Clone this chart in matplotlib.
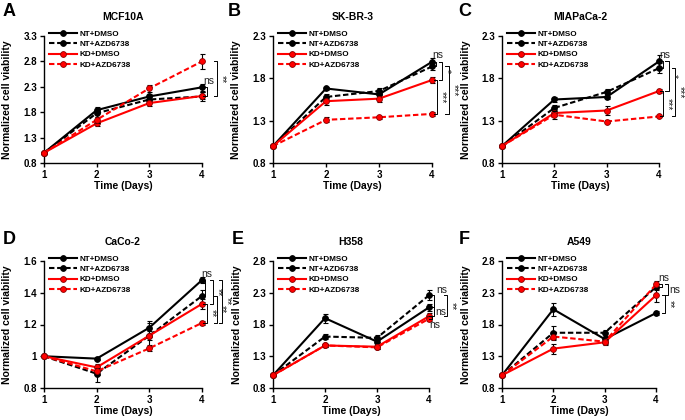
import matplotlib
matplotlib.use('Agg')
import matplotlib.pyplot as plt
from matplotlib.lines import Line2D

plt.rcParams['font.family'] = ['Liberation Sans', 'DejaVu Sans']

# ---------------- data ----------------
days = [1, 2, 3, 4]
series_names = ['NT+DMSO', 'NT+AZD6738', 'KD+DMSO', 'KD+AZD6738']

# A: MCF10A
a_nt_dmso = [1.00, 1.84, 2.11, 2.29]
a_nt_azd = [1.00, 1.78, 2.05, 2.11]
a_kd_dmso = [1.00, 1.58, 1.98, 2.12]
a_kd_azd = [1.00, 1.65, 2.27, 2.80]
a_err = [[0, 0.06, 0.05, 0.07], [0, 0.08, 0.05, 0.08], [0, 0.05, 0.05, 0.07], [0, 0.06, 0.07, 0.15]]

# B: SK-BR-3
b_nt_dmso = [1.00, 1.68, 1.61, 1.995]
b_nt_azd = [1.00, 1.58, 1.65, 1.94]
b_kd_dmso = [1.00, 1.53, 1.56, 1.78]
b_kd_azd = [1.00, 1.31, 1.34, 1.38]
b_err = [[0, 0.02, 0.02, 0.04], [0, 0.03, 0.03, 0.04], [0, 0.05, 0.04, 0.04], [0, 0.03, 0.02, 0.02]]

# C: MIAPaCa-2
c_nt_dmso = [1.00, 1.55, 1.58, 2.00]
c_nt_azd = [1.00, 1.45, 1.64, 1.92]
c_kd_dmso = [1.00, 1.39, 1.42, 1.65]
c_kd_azd = [1.00, 1.37, 1.29, 1.35]
c_err = [[0, 0.03, 0.03, 0.07], [0, 0.03, 0.03, 0.06], [0, 0.04, 0.05, 0.02], [0, 0.05, 0.02, 0.01]]

# D: CaCo-2
d_nt_dmso = [1.00, 0.985, 1.18, 1.48]
d_nt_azd = [1.00, 0.89, 1.13, 1.38]
d_kd_dmso = [1.00, 0.93, 1.13, 1.33]
d_kd_azd = [1.00, 0.905, 1.05, 1.21]
d_err = [[0, 0.01, 0.04, 0.02], [0, 0.05, 0.03, 0.04], [0, 0.02, 0.08, 0.03], [0, 0.02, 0.02, 0.01]]

# E: H358
e_nt_dmso = [1.00, 1.90, 1.53, 2.07]
e_nt_azd = [1.00, 1.61, 1.59, 2.26]
e_kd_dmso = [1.00, 1.47, 1.45, 1.93]
e_kd_azd = [1.00, 1.47, 1.44, 1.89]
e_err = [[0, 0.07, 0.04, 0.05], [0, 0.04, 0.04, 0.08], [0, 0.03, 0.03, 0.05], [0, 0.02, 0.03, 0.04]]

# F: A549
f_nt_dmso = [1.00, 2.04, 1.57, 1.98]
f_nt_azd = [1.00, 1.67, 1.67, 2.39]
f_kd_dmso = [1.00, 1.42, 1.52, 2.26]
f_kd_azd = [1.00, 1.61, 1.53, 2.43]
f_err = [[0, 0.10, 0.04, 0.03], [0, 0.10, 0.05, 0.05], [0, 0.08, 0.05, 0.10], [0, 0.05, 0.04, 0.05]]

titles = ['MCF10A', 'SK-BR-3', 'MIAPaCa-2', 'CaCo-2', 'H358', 'A549']
letters = ['A', 'B', 'C', 'D', 'E', 'F']
yticks_a = [0.8, 1.3, 1.8, 2.3, 2.8, 3.3]
yticks_bc = [0.8, 1.3, 1.8, 2.3]
yticks_d = [0.8, 1.0, 1.2, 1.4, 1.6]
ylabels_d = ['0.8', '1', '1.2', '1.4', '1.6']
yticks_ef = [0.8, 1.3, 1.8, 2.3, 2.8]

# significance brackets at day 4: (series i, series j, x offset px, label, label mode)
brackets = [
    [(0, 2, 5, 'ns', 'above'), (3, 2, 15, '**', 'rot')],
    [(0, 1, 4, 'ns', 'above'), (0, 2, 10, '*', 'rot'), (2, 3, 5, '***', 'rot'), (1, 3, 17, '***', 'rot')],
    [(0, 1, 4, 'ns', 'above'), (0, 2, 10, '*', 'rot'), (2, 3, 4, '***', 'rot'), (1, 3, 16, '***', 'rot')],
    [(0, 1, 3, 'ns', 'above'), (0, 2, 11, '**', 'rot'), (2, 3, 5, '**', 'rot'), (1, 3, 15, '**', 'rot'), (0, 3, 20, '**', 'rot')],
    [(1, 0, 5, 'ns', 'aboveR'), (0, 2, 5, 'ns', 'right'), (2, 3, 3, 'ns', 'below'), (1, 2, 18, '**', 'rot')],
    [(3, 1, 6, 'ns', 'above'), (3, 2, 12, 'ns', 'right'), (2, 0, 9, '**', 'rot')],
]

panels = [
    ([a_nt_dmso, a_nt_azd, a_kd_dmso, a_kd_azd], a_err, yticks_a, None),
    ([b_nt_dmso, b_nt_azd, b_kd_dmso, b_kd_azd], b_err, yticks_bc, None),
    ([c_nt_dmso, c_nt_azd, c_kd_dmso, c_kd_azd], c_err, yticks_bc, None),
    ([d_nt_dmso, d_nt_azd, d_kd_dmso, d_kd_azd], d_err, yticks_d, ylabels_d),
    ([e_nt_dmso, e_nt_azd, e_kd_dmso, e_kd_azd], e_err, yticks_ef, None),
    ([f_nt_dmso, f_nt_azd, f_kd_dmso, f_kd_azd], f_err, yticks_ef, None),
]

# ---------------- layout (pixels) ----------------
W, H = 685, 420
fig = plt.figure(figsize=(W / 100, H / 100), dpi=100)
axes_px = [(44, 36, 158, 127), (273, 36, 159, 127), (502, 36, 157, 127),
           (44, 261, 158, 127), (273, 261, 156, 127), (502, 261, 154, 127)]
letter_px = [(3, 12), (228, 12), (458, 12), (3, 239), (232, 239), (459, 239)]

RED = '#FF0000'
styles = [
    dict(color='black', ls='-', mfc='black', mec='black'),
    dict(color='black', ls=(0, (2.6, 1.3)), mfc='black', mec='black'),
    dict(color=RED, ls='-', mfc=RED, mec='#8B0000'),
    dict(color=RED, ls=(0, (2.6, 1.3)), mfc=RED, mec='#8B0000'),
]

for k, (series, errs, yt, ylab) in enumerate(panels):
    x0, y0, w, h = axes_px[k]
    ax = fig.add_axes([x0 / W, 1 - (y0 + h) / H, w / W, h / H])
    for s, (vals, err, st) in enumerate(zip(series, errs, styles)):
        ax.errorbar(days, vals, yerr=err, fmt='none', ecolor='black', elinewidth=0.8,
                    capsize=1.8, capthick=0.8, clip_on=False, zorder=2 + s)
        ax.plot(days, vals, color=st['color'], ls=st['ls'], lw=1.5, marker='o', ms=4.2,
                mfc=st['mfc'], mec=st['mec'], mew=0.6, clip_on=False, zorder=3 + s,
                label=series_names[s])
    ax.set_xlim(1, 4)
    ax.set_ylim(yt[0], yt[-1])
    ax.set_xticks(days)
    ax.set_xticklabels([str(d) for d in days], fontweight='bold', fontsize=7)
    ax.set_yticks(yt)
    ax.set_yticklabels(ylab if ylab else ['%.1f' % v for v in yt], fontweight='bold', fontsize=7)
    for sp in ['top', 'right']:
        ax.spines[sp].set_visible(False)
    for sp in ['left', 'bottom']:
        ax.spines[sp].set_linewidth(1.0)
    ax.tick_params(direction='out', length=3, width=1, pad=2)
    ax.set_ylabel('Normalized cell viability', fontweight='bold', fontsize=7.5)
    ax.yaxis.set_label_coords(-0.2, 0.5)
    ax.set_xlabel('Time (Days)', fontweight='bold', fontsize=7.5)
    ax.xaxis.set_label_coords(0.5, -0.14)
    ax.set_title(titles[k], fontweight='bold', fontsize=7.5, pad=11.5)

    handles = [Line2D([0], [0], color=st['color'], ls=st['ls'], lw=1.5, marker='o', ms=4.2,
                      mfc=st['mfc'], mec=st['mec'], mew=0.6) for st in styles]
    ax.legend(handles, series_names, loc='upper left', bbox_to_anchor=(0.03, 1.045),
              frameon=False, prop={'weight': 'bold', 'size': 5.9},
              handlelength=3.5, handletextpad=0.3, labelspacing=0.3,
              borderpad=0, borderaxespad=0, numpoints=1)

    # brackets
    inv = fig.transFigure.inverted()
    for (i, j, off, lab, mode) in brackets[k]:
        ya, yb = series[i][3], series[j][3]
        xd, pa = ax.transData.transform((4, ya))
        _, pb = ax.transData.transform((4, yb))
        top, bot = max(pa, pb), min(pa, pb)
        xv = xd + off
        pts = [(xv - 3.5, top), (xv, top), (xv, bot), (xv - 3.5, bot)]
        fpts = inv.transform(pts)
        fig.add_artist(Line2D(fpts[:, 0], fpts[:, 1], color='black', lw=0.7))
        mid = (top + bot) / 2
        if mode == 'above':
            pos, kw = (xv - 4, top + 1.5), dict(ha='left', va='bottom')
        elif mode == 'aboveR':
            pos, kw = (xv + 2, top + 0.5), dict(ha='left', va='bottom')
        elif mode == 'right':
            pos, kw = (xv + 1.5, mid), dict(ha='left', va='center')
        elif mode == 'below':
            pos, kw = (xv - 3, bot - 1.5), dict(ha='left', va='top')
        else:
            pos, kw = (xv + 4.5, mid), dict(ha='center', va='center', rotation=270)
        fp = inv.transform([pos])[0]
        fig.text(fp[0], fp[1], lab, fontsize=7.5, color='#222222', **kw)

for k, (lx, ly) in enumerate(letter_px):
    fig.text(lx / W, 1 - ly / H, letters[k], fontsize=13, fontweight='bold',
             ha='left', va='center')

fig.savefig('out.png', dpi=100)
